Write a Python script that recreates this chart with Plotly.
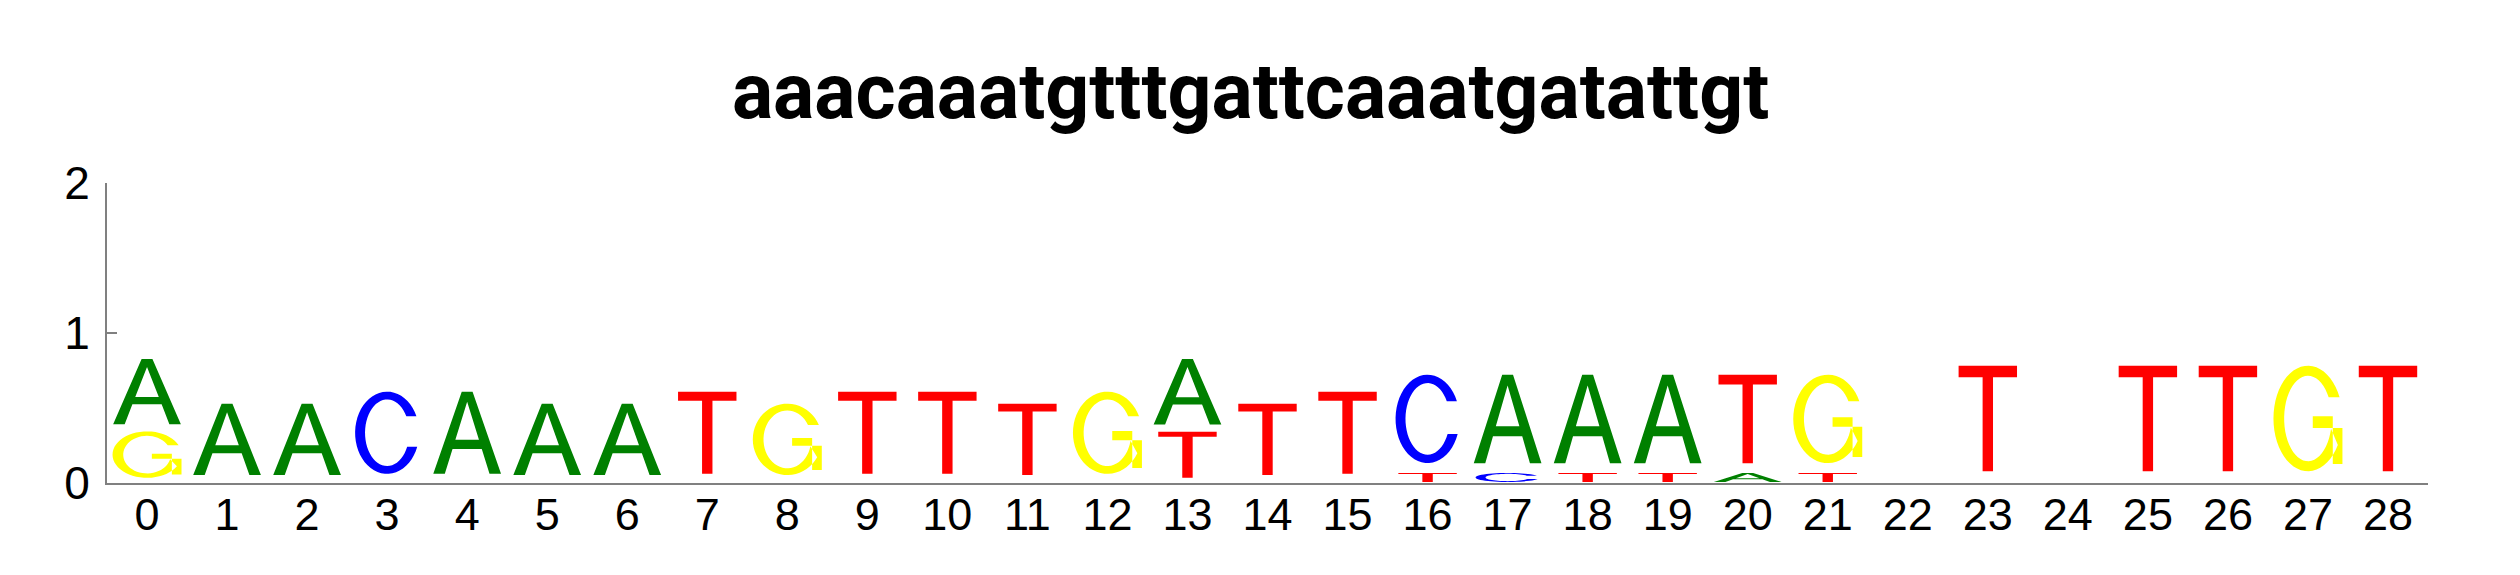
import numpy as np
import plotly.graph_objects as go

# Sequence logo data (bits per base, one value per position)
title_seq = "aaacaaatgtttgattcaaatgatattgt"
positions = list(range(29))
tick_labels = [str(p) for p in positions]

A = [0.483, 0.529, 0.529, 0, 0.609, 0.529, 0.529, 0, 0, 0,
     0, 0, 0, 0.485, 0, 0, 0, 0.655, 0.655, 0.655,
     0.067, 0, 0, 0, 0, 0, 0, 0, 0]
C = [0, 0, 0, 0.609, 0, 0, 0, 0, 0, 0,
     0, 0, 0, 0, 0, 0, 0.655, 0.067, 0, 0,
     0, 0, 0, 0, 0, 0, 0, 0, 0]
G = [0.344, 0, 0, 0, 0, 0, 0, 0, 0.529, 0,
     0, 0, 0.609, 0, 0, 0, 0, 0, 0, 0,
     0, 0.655, 0, 0, 0, 0, 0, 0.782, 0]
T = [0, 0, 0, 0, 0, 0, 0, 0.609, 0, 0.609,
     0.609, 0.529, 0, 0.342, 0.529, 0.609, 0.067, 0, 0.067, 0.067,
     0.655, 0.067, 0, 0.782, 0, 0.782, 0.782, 0, 0.782]

colors = {"A": "#008000", "C": "#0000FF", "G": "#FFFF00", "T": "#FF0000"}
widths = {"A": 0.846, "C": 0.80, "G": 0.862, "T": 0.73}  # glyph width in x units


def arc(rx, ry, a0, a1, n=48):
    t = np.radians(np.linspace(a0, a1, n))
    return list(zip(0.5 + rx * np.cos(t), 0.5 + ry * np.sin(t)))


# glyph outlines in a unit box (u right, v up), list of sub-polygons
glyphs = {
    "T": [[(0, 1), (1, 1), (1, 0.89), (0.589, 0.89), (0.589, 0),
           (0.411, 0), (0.411, 0.89), (0, 0.89)]],
    "A": [[(0, 0), (0.42, 1), (0.58, 1), (1, 0), (0.83, 0), (0.716, 0.304),
           (0.284, 0.304), (0.17, 0)],
          [(0.326, 0.416), (0.674, 0.416), (0.5, 0.878)]],
    "C": [arc(0.5, 0.5, 23.6, 340.1) + arc(0.345, 0.405, 335.2, 29.6)],
    "G": [arc(0.5, 0.5, 23.6, 330) + arc(0.345, 0.405, 346, 29.6),
          [(0.86, 0.07), (1, 0.07), (1, 0.52), (0.86, 0.52)],
          [(0.57, 0.41), (1, 0.41), (1, 0.52), (0.57, 0.52)]],
}


def glyph_path(base, x, y0, h):
    w = widths[base]
    parts = []
    for poly in glyphs[base]:
        pts = ["%.4f,%.4f" % (x - w / 2 + u * w, y0 + h * (0.1 + 0.9 * v)) for u, v in poly]
        parts.append("M" + " L".join(pts) + " Z")
    return " ".join(parts)


shapes = []
for i, p in enumerate(positions):
    col = [("A", A[i]), ("C", C[i]), ("G", G[i]), ("T", T[i])]
    col = sorted([c for c in col if c[1] > 0], key=lambda c: c[1])
    y0 = 0
    for base, h in col:
        shapes.append(dict(type="path", path=glyph_path(base, p, y0, h),
                           xref="x", yref="y", fillcolor=colors[base],
                           line=dict(width=0), layer="above"))
        y0 += h

fig = go.Figure()
fig.update_layout(
    width=2520, height=575,
    margin=dict(l=99, r=100, t=175, b=100),
    paper_bgcolor="white", plot_bgcolor="white",
    shapes=shapes,
    showlegend=False,
    title=dict(text=title_seq, x=0.4927, xref="paper", y=0.856, yref="container",
               yanchor="middle",
               font=dict(family="Roboto", size=77, color="black", weight="bold")),
    xaxis=dict(range=[-0.5, 28.5], tickvals=positions, ticktext=tick_labels,
               ticks="", showgrid=False, zeroline=False, showline=True,
               linecolor="#808080", linewidth=2, ticklabelstandoff=-9,
               tickfont=dict(family="Liberation Sans", size=45, color="black")),
    yaxis=dict(range=[0, 2], tickvals=[0, 1, 2], ticks="inside", ticklen=10,
               tickcolor="#808080", tickwidth=2, showgrid=False, zeroline=False,
               showline=True, linecolor="#808080", linewidth=2, ticklabelstandoff=6,
               tickfont=dict(family="Liberation Sans", size=46, color="black")),
)

fig.write_html("out.html")
